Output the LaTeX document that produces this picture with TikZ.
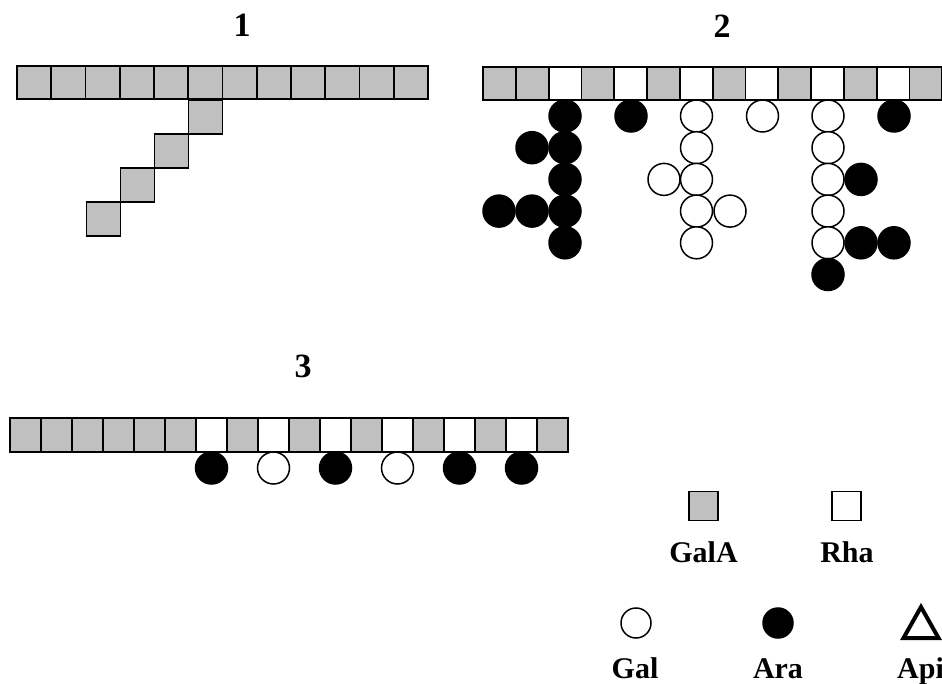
\documentclass[tikz,border=0pt]{standalone}
\usepackage{fontspec}
\setmainfont{Liberation Serif}
\definecolor{galagray}{RGB}{192,192,192}
\begin{document}
\begin{tikzpicture}[x=1pt,y=-1pt,
  unit/.style={draw=black,line width=1.8pt,inner sep=0pt,outer sep=0pt},
  galasq/.style={unit,rectangle,fill=galagray},
  rhasq/.style={unit,rectangle,fill=white},
  galcirc/.style={draw=black,line width=1.5pt,circle,fill=white,inner sep=0pt,minimum size=32pt},
  aracirc/.style={draw=black,line width=1.5pt,circle,fill=black,inner sep=0pt,minimum size=32pt},
  title/.style={font=\fontsize{34}{40}\selectfont\bfseries,inner sep=0pt},
  legtxt/.style={font=\fontsize{30}{36}\selectfont\bfseries,inner sep=0pt,anchor=base}]
\clip (0,0) rectangle (942,684);
\fill[white] (0,0) rectangle (942,684);

% ---- structure 1: homogalacturonan backbone with branch ----
\node[title] (t1) at (242,25) {1};
\foreach \i in {0,...,11}
  \node[galasq,minimum width=34.25pt,minimum height=33pt] (a\i) at ({17+34.25*(\i+0.5)},82.5) {};
\foreach \k in {0,...,3}
  \node[galasq,minimum width=34pt,minimum height=34pt] (b\k) at ({205.5-34*\k},{117+34*\k}) {};

% ---- structure 2: alternating backbone with side chains ----
\node[title] (t2) at (722,26.5) {2};
\foreach \i/\s in {0/galasq,1/galasq,2/rhasq,3/galasq,4/rhasq,5/galasq,6/rhasq,
                   7/galasq,8/rhasq,9/galasq,10/rhasq,11/galasq,12/rhasq,13/galasq}
  \node[\s,minimum width=32.8pt,minimum height=33pt] (c\i) at ({483+32.8*(\i+0.5)},83.5) {};

% side chain on the third residue (arabinose)
\foreach \r in {0,...,4}
  \node[aracirc] (p\r) at (565,{116+31.7*\r}) {};
\node[aracirc] (p5) at (532,{116+31.7}) {};
\node[aracirc] (p6) at (532,{116+31.7*3}) {};
\node[aracirc] (p7) at (499,{116+31.7*3}) {};

% single arabinose on the fifth residue
\node[aracirc] (q0) at (631,116) {};

% side chain on the seventh residue (galactose)
\foreach \r in {0,...,4}
  \node[galcirc] (s\r) at (696.5,{116+31.7*\r}) {};
\node[galcirc] (s5) at (664,{116+31.7*2}) {};
\node[galcirc] (s6) at (730,{116+31.7*3}) {};

% single galactose on the ninth residue
\node[galcirc] (u0) at (762.5,116) {};

% mixed side chain on the eleventh residue
\foreach \r in {0,...,4}
  \node[galcirc] (v\r) at (828,{116+31.7*\r}) {};
\node[aracirc] (v5) at (828,{116+31.7*5}) {};
\node[aracirc] (v6) at (861,{116+31.7*2}) {};
\node[aracirc] (v7) at (861,{116+31.7*4}) {};
\node[aracirc] (v8) at (894,{116+31.7*4}) {};

% single arabinose on the thirteenth residue
\node[aracirc] (w0) at (894,116) {};

% ---- structure 3 ----
\node[title] (t3) at (303,366) {3};
\foreach \i/\s in {0/galasq,1/galasq,2/galasq,3/galasq,4/galasq,5/galasq,6/rhasq,
                   7/galasq,8/rhasq,9/galasq,10/rhasq,11/galasq,12/rhasq,13/galasq,
                   14/rhasq,15/galasq,16/rhasq,17/galasq}
  \node[\s,minimum width=31pt,minimum height=33.5pt] (d\i) at ({10+31*(\i+0.5)},435) {};
\foreach \k/\s in {0/aracirc,1/galcirc,2/aracirc,3/galcirc,4/aracirc,5/aracirc}
  \node[\s,minimum size=32pt] (e\k) at ({211.5+62*\k},468) {};

% ---- legend ----
\node[galasq,minimum size=29pt] (lgala) at (703.5,506) {};
\node[rhasq,minimum size=29pt] (lrha) at (846.5,506) {};
\node[legtxt] (tgala) at (703.5,562) {GalA};
\node[legtxt] (trha) at (847,562) {Rha};
\node[galcirc,minimum size=30pt] (lgal) at (636,623) {};
\node[aracirc,minimum size=30pt] (lara) at (778,623) {};
\coordinate (lapi) at (921,607);
\draw[line width=4pt,line join=miter] (lapi) -- ++(17.5,31) -- ++(-35,0) -- cycle;
\node[legtxt] (tgal) at (635,678) {Gal};
\node[legtxt] (tara) at (778,678) {Ara};
\node[legtxt,anchor=base west] (tapi) at (897,678) {Api};
\end{tikzpicture}
\end{document}
